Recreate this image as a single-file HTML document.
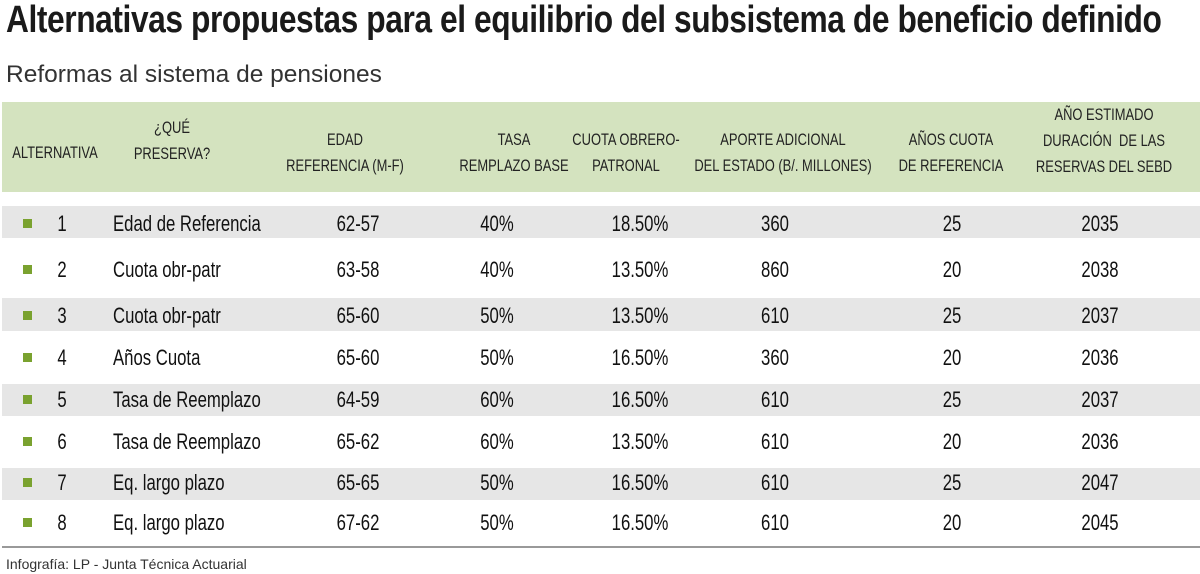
<!DOCTYPE html>
<html><head><meta charset="utf-8"><style>
body{margin:0;width:1200px;height:574px;background:#fff;position:relative;overflow:hidden;font-family:"Liberation Sans",sans-serif;color:#1a1a1a}
.a{position:absolute;white-space:nowrap}
.t{left:6px;top:-1px;font-size:38px;font-weight:bold;letter-spacing:-0.5px;transform:scaleX(.835);transform-origin:0 0}
.s{left:6px;top:61px;font-size:24.5px;color:#333}
.hd{left:2px;top:102px;width:1198px;height:90px;background:#d4e3bf}
.h{font-size:17px;text-align:center;line-height:26px;transform:translateX(-50%) scaleX(.76);transform-origin:50% 0;color:#222}
.band{left:2px;width:1198px;background:#e6e6e6}
.sq{width:9px;height:9px;background:#7aa22f}
.c{font-size:22px;transform:translate(-50%,-50%) scaleX(.76);transform-origin:50% 50%;color:#111}
.l{font-size:22px;transform:translateY(-50%) scaleX(.76);transform-origin:0 50%;color:#111}
</style></head><body>
<div class="a t">Alternativas propuestas para el equilibrio del subsistema de beneficio definido</div>
<div class="a s">Reformas al sistema de pensiones</div>
<div class="a hd"></div>
<div class="a h" style="left:55px;top:140px">ALTERNATIVA</div>
<div class="a h" style="left:172px;top:115px">¿QUÉ<br>PRESERVA?</div>
<div class="a h" style="left:345px;top:127px">EDAD<br>REFERENCIA (M-F)</div>
<div class="a h" style="left:514px;top:127px">TASA<br>REMPLAZO BASE</div>
<div class="a h" style="left:626px;top:127px">CUOTA OBRERO-<br>PATRONAL</div>
<div class="a h" style="left:783px;top:127px">APORTE ADICIONAL<br>DEL ESTADO (B/. MILLONES)</div>
<div class="a h" style="left:951px;top:127px">AÑOS CUOTA<br>DE REFERENCIA</div>
<div class="a h" style="left:1104px;top:102px">AÑO ESTIMADO<br>DURACIÓN&nbsp; DE LAS<br>RESERVAS DEL SEBD</div>
<div class="a band" style="top:206px;height:32px"></div>
<div class="a band" style="top:298px;height:33px"></div>
<div class="a band" style="top:384px;height:32px"></div>
<div class="a band" style="top:468px;height:32px"></div>
<div class="a" style="left:2px;top:546px;width:1198px;height:2px;background:#999"></div>
<div id="rows"></div>
<div class="a" style="left:6px;top:556px;font-size:14px;color:#333">Infografía: LP - Junta Técnica Actuarial</div>
<script>
var d=[[224,1,"Edad de Referencia","62-57","40%","18.50%",360,25,2035],
[270,2,"Cuota obr-patr","63-58","40%","13.50%",860,20,2038],
[316,3,"Cuota obr-patr","65-60","50%","13.50%",610,25,2037],
[358,4,"Años Cuota","65-60","50%","16.50%",360,20,2036],
[400,5,"Tasa de Reemplazo","64-59","60%","16.50%",610,25,2037],
[442,6,"Tasa de Reemplazo","65-62","60%","13.50%",610,20,2036],
[483,7,"Eq. largo plazo","65-65","50%","16.50%",610,25,2047],
[523,8,"Eq. largo plazo","67-62","50%","16.50%",610,20,2045]];
var xs=[62,null,358,497,640,775,952,1100],h="";
d.forEach(function(r){var y=r[0];
h+='<div class="a sq" style="left:23px;top:'+(y-5)+'px"></div>';
h+='<div class="a l" style="left:113px;top:'+y+'px">'+r[2]+'</div>';
[1,3,4,5,6,7,8].forEach(function(i){var x=xs[i-1];h+='<div class="a c" style="left:'+x+'px;top:'+y+'px">'+r[i]+'</div>';});});
document.getElementById("rows").innerHTML=h;
</script>
</body></html>
